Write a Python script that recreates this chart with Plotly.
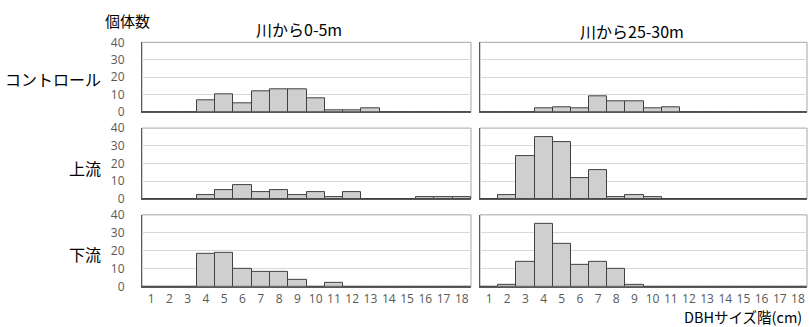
import plotly.graph_objects as go

categories = list(range(1, 19))
tick_labels = [str(c) for c in categories]
y_ticks = [0, 10, 20, 30, 40]

row_labels = ["コントロール", "上流", "下流"]
col_titles = ["川から0-5m", "川から25-30m"]

control_0_5 = [0, 0, 0, 7, 10, 5, 12, 13, 13, 8, 1, 1, 2, 0, 0, 0, 0, 0]
control_25_30 = [0, 0, 0, 2, 3, 2, 9, 6, 6, 2, 3, 0, 0, 0, 0, 0, 0, 0]
upstream_0_5 = [0, 0, 0, 2, 5, 8, 4, 5, 2, 4, 1, 4, 0, 0, 0, 1, 1, 1]
upstream_25_30 = [0, 2, 24, 35, 32, 12, 16, 1, 2, 1, 0, 0, 0, 0, 0, 0, 0, 0]
downstream_0_5 = [0, 0, 0, 18, 19, 10, 8, 8, 4, 0, 2, 0, 0, 0, 0, 0, 0, 0]
downstream_25_30 = [0, 1, 14, 35, 24, 12, 14, 10, 1, 0, 0, 0, 0, 0, 0, 0, 0, 0]

series = [
    [control_0_5, control_25_30],
    [upstream_0_5, upstream_25_30],
    [downstream_0_5, downstream_25_30],
]

W, H = 809, 343
# target positions in the 809x327 picture; mapped to page pixels
OFF, SC = 7.6, 0.953


def py(y_pic):
    return (y_pic - OFF) / SC


def fy(y_pic):
    return 1 - py(y_pic) / H


col_px = [(142, 471), (480, 807)]
row_px = [(41, 111), (127, 198), (214, 286)]

FONT = "Noto Sans CJK JP"
NUM_FONT = "Open Sans"
TICK_COLOR = "#595959"

fig = go.Figure()
layout = {}
shapes = []
idx = 0
for r in range(3):
    for c in range(2):
        idx += 1
        xa = "x" if idx == 1 else f"x{idx}"
        ya = "y" if idx == 1 else f"y{idx}"
        fig.add_trace(go.Bar(
            x=categories, y=series[r][c], xaxis=xa, yaxis=ya,
            width=1.0,
            marker=dict(color="#d0cfd0", line=dict(color="#404040", width=1)),
            showlegend=False, hoverinfo="x+y",
        ))
        x0, x1 = col_px[c]
        yt, yb = row_px[r]
        xkey = "xaxis" if idx == 1 else f"xaxis{idx}"
        ykey = "yaxis" if idx == 1 else f"yaxis{idx}"
        layout[xkey] = dict(
            domain=[x0 / W, x1 / W], anchor=ya,
            range=[0.5, 18.5], tickmode="array", tickvals=categories,
            ticktext=tick_labels, showticklabels=(r == 2),
            showgrid=False, zeroline=False, showline=True,
            linecolor="#595959", linewidth=1, ticks="",
            ticklabelstandoff=1,
            tickfont=dict(family=NUM_FONT, size=12, color=TICK_COLOR),
            fixedrange=True,
        )
        layout[ykey] = dict(
            domain=[fy(yb), fy(yt)], anchor=xa,
            range=[0, 40], tickmode="array", tickvals=y_ticks,
            showticklabels=(c == 0), showgrid=True, gridcolor="#d9d9d9",
            gridwidth=1, zeroline=False, showline=True,
            linecolor="#595959", linewidth=1, ticks="",
            ticklabelstandoff=14,
            tickfont=dict(family=NUM_FONT, size=12, color=TICK_COLOR),
            fixedrange=True,
        )
        shapes.append(dict(type="rect", xref=f"{xa} domain", yref=f"{ya} domain",
                           x0=0, x1=1, y0=0, y1=1,
                           line=dict(color="#a6a6a6", width=1), layer="below"))

annotations = []
annotations.append(dict(text=col_titles[0], x=299 / W, y=fy(28), xref="paper", yref="paper",
                        showarrow=False, font=dict(family=FONT, size=16, color="#000000"),
                        xanchor="center", yanchor="middle"))
annotations.append(dict(text=col_titles[1], x=632 / W, y=fy(30), xref="paper", yref="paper",
                        showarrow=False, font=dict(family=FONT, size=16, color="#000000"),
                        xanchor="center", yanchor="middle"))
annotations.append(dict(text="個体数", x=127 / W, y=fy(19), xref="paper", yref="paper",
                        showarrow=False, font=dict(family=FONT, size=15, color="#000000"),
                        xanchor="center", yanchor="middle"))
row_y = [78, 167, 253]
for lbl, yy in zip(row_labels, row_y):
    annotations.append(dict(text=lbl, x=103 / W, y=fy(yy), xref="paper", yref="paper",
                            showarrow=False, font=dict(family=FONT, size=16, color="#000000"),
                            xanchor="right", yanchor="middle"))
annotations.append(dict(text="DBHサイズ階(cm)", x=682 / W, y=fy(316), xref="paper", yref="paper",
                        showarrow=False, font=dict(family=FONT, size=14.5, color="#000000"),
                        xanchor="left", yanchor="middle"))

fig.update_layout(
    width=W, height=H,
    margin=dict(l=0, r=0, t=0, b=0),
    paper_bgcolor="white", plot_bgcolor="white",
    bargap=0, shapes=shapes, annotations=annotations,
    font=dict(family=FONT),
    **layout,
)

fig.write_html(
    "out.html",
    config={"displayModeBar": False},
    post_script=(
        "var s='margin:0;padding:0;overflow:hidden;';"
        "document.documentElement.style.cssText=s;document.body.style.cssText=s;"
        "window.scrollTo(0,0);"
    ),
)
